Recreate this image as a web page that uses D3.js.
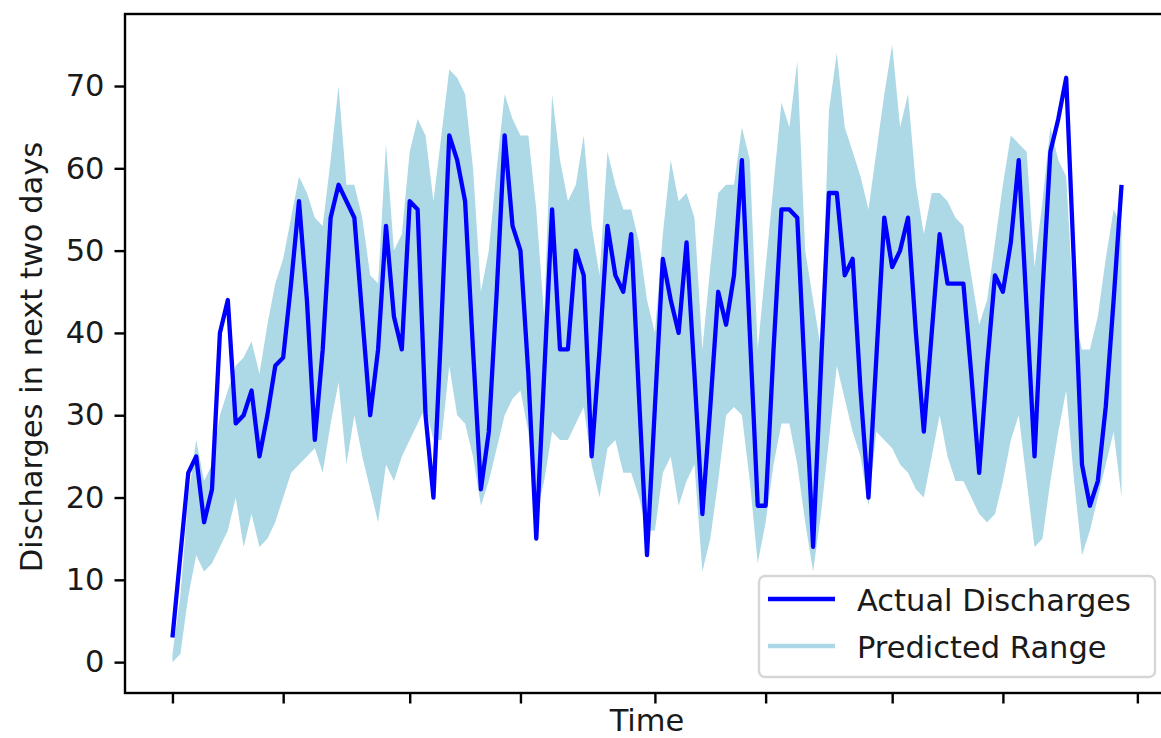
<!DOCTYPE html>
<html>
<head>
<meta charset="utf-8">
<script src="https://cdn.jsdelivr.net/npm/d3@7"></script>
<style>
  body { margin: 0; background: #fff; }
  svg text { font-family: 'DejaVu Sans', sans-serif; fill: #1a1a1a; }
</style>
</head>
<body>
<svg id="chart" width="1161" height="738"></svg>
<script>
// one value per day, starting at startDay
const startDay = '2018-09-01';

const actual = [3, 13, 23, 25, 17, 21, 40, 44, 29, 30,
    33, 25, 30, 36, 37, 46, 56, 44, 27, 38,
    54, 58, 56, 54, 42, 30, 38, 53, 42, 38,
    56, 55, 30, 20, 41, 64, 61, 56, 38, 21,
    28, 45, 64, 53, 50, 35, 15, 35, 55, 38,
    38, 50, 47, 25, 38, 53, 47, 45, 52, 32,
    13, 31, 49, 44, 40, 51, 35, 18, 31, 45,
    41, 47, 61, 40, 19, 19, 38, 55, 55, 54,
    34, 14, 36, 57, 57, 47, 49, 33, 20, 37,
    54, 48, 50, 54, 40, 28, 40, 52, 46, 46,
    46, 35, 23, 36, 47, 45, 51, 61, 43, 25,
    45, 62, 66, 71, 48, 24, 19, 22, 31, 44,
    58];

const lower = [0, 1, 8, 13, 11, 12, 14, 16, 20, 14,
    18, 14, 15, 17, 20, 23, 24, 25, 26, 23,
    29, 34, 24, 30, 25, 21, 17, 24, 22, 25,
    27, 29, 31, 27, 27, 36, 30, 29, 25, 19,
    22, 26, 30, 32, 33, 28, 18, 22, 28, 27,
    27, 29, 31, 24, 20, 26, 27, 23, 23, 20,
    16, 16, 23, 25, 19, 22, 24, 11, 15, 22,
    30, 31, 30, 22, 12, 17, 24, 29, 29, 24,
    17, 11, 18, 27, 36, 32, 28, 25, 19, 28,
    27, 26, 24, 23, 21, 20, 25, 30, 25, 22,
    22, 20, 18, 17, 18, 22, 27, 30, 22, 14,
    15, 22, 28, 33, 22, 13, 16, 20, 24, 28,
    20];

const upper = [1, 8, 20, 27, 22, 24, 30, 33, 36, 37,
    39, 35, 41, 46, 49, 54, 59, 57, 54, 53,
    61, 70, 58, 58, 54, 47, 46, 63, 50, 52,
    62, 66, 64, 56, 64, 72, 71, 69, 60, 45,
    50, 60, 69, 66, 64, 64, 55, 42, 69, 61,
    56, 58, 64, 53, 47, 62, 58, 55, 55, 51,
    44, 40, 52, 61, 56, 57, 54, 38, 48, 57,
    58, 58, 65, 61, 38, 48, 58, 68, 65, 73,
    50, 44, 38, 67, 74, 65, 62, 59, 55, 62,
    69, 75, 65, 69, 58, 52, 57, 57, 56, 54,
    53, 47, 41, 44, 51, 58, 64, 63, 62, 48,
    56, 65, 61, 59, 42, 38, 38, 42, 49, 55,
    53];

const yTicks = [0, 10, 20, 30, 40, 50, 60, 70];
const xTickDays = ['2018-09-01', '2018-09-15', '2018-10-01', '2018-10-15', '2018-11-01',
    '2018-11-15', '2018-12-01', '2018-12-15', '2019-01-01'];
const legendLabels = ['Actual Discharges', 'Predicted Range'];
const legendColors = ['#0000ff', '#add8e6'];

function draw_chart(canvas_id) {
    var parse = d3.utcParse('%Y-%m-%d');
    var day0 = parse(startDay);
    var rows = actual.map(function (v, i) {
        return {date: d3.utcDay.offset(day0, i), actual: v, lower: lower[i], upper: upper[i]};
    });

    var x0 = 125, x1 = 1169, y0 = 14, y1 = 693;
    var fontSize = '30.5px';
    var chart = d3.select('#' + canvas_id);

    // matplotlib style 5% margins
    var tExt = d3.extent(rows, function (d) { return d.date; });
    var tPad = (tExt[1] - tExt[0]) * 0.05;
    var xs = d3.scaleUtc()
        .domain([new Date(+tExt[0] - tPad), new Date(+tExt[1] + tPad)])
        .range([x0, x1]);

    var yMin = d3.min(lower), yMax = d3.max(upper);
    var yPad = (yMax - yMin) * 0.05;
    var ys = d3.scaleLinear().domain([yMin - yPad, yMax + yPad]).range([y1, y0]);

    chart.append('clipPath').attr('id', 'plotclip')
        .append('rect').attr('x', x0).attr('y', y0)
        .attr('width', x1 - x0).attr('height', y1 - y0);

    var plot = chart.append('g').attr('clip-path', 'url(#plotclip)');

    var area = d3.area()
        .x(function (d) { return xs(d.date); })
        .y0(function (d) { return ys(d.lower); })
        .y1(function (d) { return ys(d.upper); });

    var line = d3.line()
        .x(function (d) { return xs(d.date); })
        .y(function (d) { return ys(d.actual); });

    plot.append('path')
        .datum(rows)
        .attr('d', area)
        .attr('fill', legendColors[1]);

    plot.append('path')
        .datum(rows)
        .attr('d', line)
        .attr('fill', 'none')
        .attr('stroke', legendColors[0])
        .attr('stroke-width', 4.3)
        .attr('stroke-linejoin', 'round');

    // axes
    var yAxis = d3.axisLeft(ys).tickValues(yTicks).tickSize(10.5).tickPadding(10);
    chart.append('g').attr('transform', 'translate(' + x0 + ',0)').call(yAxis)
        .call(function (g) {
            g.select('.domain').remove();
            g.selectAll('line').attr('stroke', '#000').attr('stroke-width', 2.4);
            g.selectAll('text').attr('font-size', fontSize).attr('font-family', 'DejaVu Sans').attr('fill', '#1a1a1a');
        });

    var xAxis = d3.axisBottom(xs).tickValues(xTickDays.map(parse)).tickSize(10.5).tickFormat('');
    chart.append('g').attr('transform', 'translate(0,' + y1 + ')').call(xAxis)
        .call(function (g) {
            g.select('.domain').remove();
            g.selectAll('line').attr('stroke', '#000').attr('stroke-width', 2.4);
        });

    chart.append('rect')
        .attr('x', x0).attr('y', y0)
        .attr('width', x1 - x0).attr('height', y1 - y0)
        .attr('fill', 'none').attr('stroke', '#000').attr('stroke-width', 2.4);

    chart.append('text')
        .attr('x', (x0 + x1) / 2)
        .attr('y', 731)
        .attr('text-anchor', 'middle')
        .style('font-size', fontSize)
        .text('Time');

    chart.append('text')
        .attr('transform', 'translate(42,357) rotate(-90)')
        .attr('text-anchor', 'middle')
        .style('font-size', fontSize)
        .text('Discharges in next two days');

    // legend, lower right
    var legend = chart.append('g');
    legend.append('rect')
        .attr('x', 759).attr('y', 576)
        .attr('width', 396).attr('height', 101)
        .attr('rx', 6)
        .attr('fill', '#fff').attr('fill-opacity', 0.8)
        .attr('stroke', '#d6d6d6').attr('stroke-width', 2.4);

    legend.selectAll('line.key')
        .data(legendLabels)
        .enter()
        .append('line')
        .attr('class', 'key')
        .attr('x1', 768).attr('x2', 835)
        .attr('y1', function (d, i) { return 599 + i * 47; })
        .attr('y2', function (d, i) { return 599 + i * 47; })
        .attr('stroke', function (d, i) { return legendColors[i]; })
        .attr('stroke-width', 4.5);

    legend.selectAll('text.key')
        .data(legendLabels)
        .enter()
        .append('text')
        .attr('class', 'key')
        .attr('x', 857)
        .attr('y', function (d, i) { return 611 + i * 47; })
        .style('font-size', fontSize)
        .text(function (d) { return d; });
}

draw_chart('chart');
</script>
</body>
</html>
